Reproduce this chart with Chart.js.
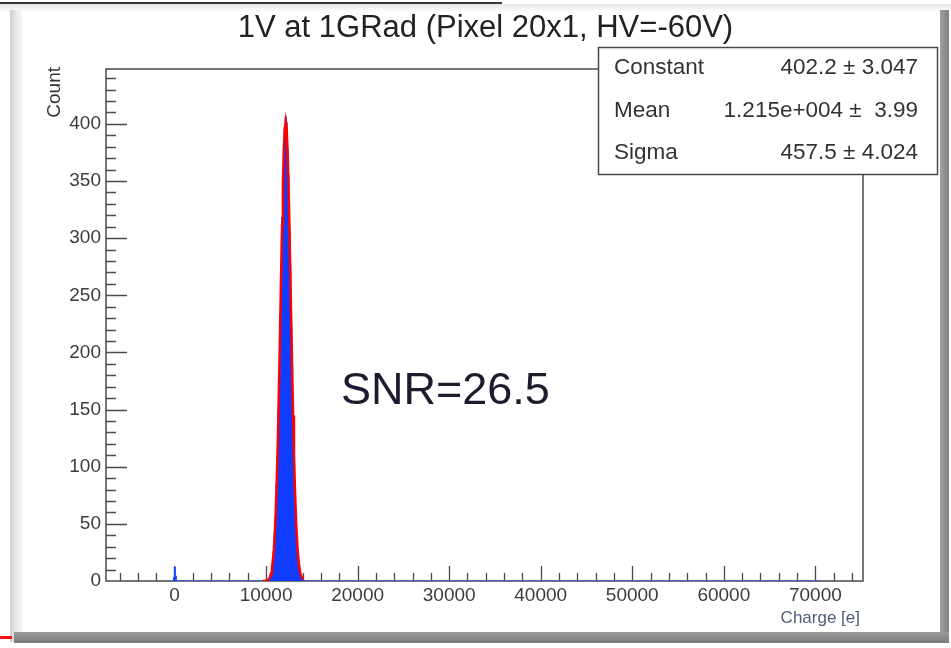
<!DOCTYPE html>
<html>
<head>
<meta charset="utf-8">
<script src="https://cdn.jsdelivr.net/npm/chart.js@4.4.0/dist/chart.umd.min.js"></script>
<style>
  body { margin: 0; background: #fff; }
  #wrap { position: relative; width: 951px; height: 648px; overflow: hidden; background: #fff; }
  #wrap div { position: absolute; }
  .topline { left: 0; top: 2px; width: 502px; height: 2px; background: #3a3a3a; }
  .topband { left: 0; top: 4px; width: 951px; height: 8px; background: linear-gradient(#e6e6e6, #fff); }
  .leftbar { left: 10px; top: 10px; width: 12px; height: 632px; background: linear-gradient(to right, #cfcfcf, #ececec 60%, #f6f6f6); }
  .rightbar { left: 940px; top: 10px; width: 9px; height: 633px; background: linear-gradient(to right, #a0a0a0, #808080); }
  .bottombar { left: 14px; top: 632px; width: 935px; height: 11px; background: linear-gradient(#9a9a9a, #7c7c7c); }
  .redmark { left: 0; top: 636px; width: 12px; height: 3px; background: #ff1010; }
  canvas { position: absolute; left: 0; top: 0; }
</style>
</head>
<body>
<div id="wrap">
  <div class="topband"></div>
  <div class="topline"></div>
  <div class="leftbar"></div>
  <div class="rightbar"></div>
  <div class="bottombar"></div>
  <div class="redmark"></div>
  <canvas id="chart" width="951" height="648"></canvas>
</div>
<script>
// histogram: left bin edges (charge, e) and counts in each bin
const binEdges = [-500, -100, 0, 100, 200,
  10200, 10300, 10400, 10500, 10600, 10700, 10800, 10900, 11000, 11100,
  11200, 11300, 11400, 11500, 11600, 11700, 11800, 11900, 12000, 12100,
  12200, 12300, 12400, 12500, 12600, 12700, 12800, 12900, 13000, 13100,
  13200, 13300, 13400, 13500, 13600, 13700, 13800, 13900, 14000, 14100,
  70500];
const binCounts = [0, 3, 12, 4, 0,
  1, 2, 4, 7, 10, 19, 26, 43, 57, 85,
  109, 150, 182, 233, 269, 318, 349, 384, 397, 406,
  401, 377, 355, 311, 276, 224, 189, 143, 113, 80,
  61, 39, 28, 16, 12, 6, 4, 2, 1, 0,
  0];

// gaussian fit curve (red), read along the peak
const fitX = [9650, 9950, 10150, 10250, 10350, 10450, 10550, 10650, 10750, 10850,
  10950, 11050, 11150, 11250, 11350, 11450, 11550, 11650, 11750, 11850,
  11950, 12050, 12150, 12250, 12350, 12450, 12550, 12650, 12750, 12850,
  12950, 13050, 13150, 13250, 13350, 13450, 13550, 13650, 13750, 13850,
  13950, 14050];
const fitY = [0, 0.2, 0.7, 1.3, 2.3, 4.0, 6.8, 11.1, 17.7, 27.2,
  40.5, 58.4, 81.7, 110.6, 144.9, 184.1, 226.5, 270.0, 311.6, 348.4,
  377.3, 395.8, 402.2, 395.8, 377.3, 348.4, 311.6, 270.0, 226.5, 184.1,
  144.9, 110.6, 81.7, 58.4, 40.5, 27.2, 17.7, 11.1, 6.8, 4.0,
  2.3, 1.3];

const xTicks = [0, 10000, 20000, 30000, 40000, 50000, 60000, 70000];
const yTicks = [0, 50, 100, 150, 200, 250, 300, 350, 400];

const title = '1V at 1GRad (Pixel 20x1, HV=-60V)';
const statNames = ['Constant', 'Mean', 'Sigma'];
const statValues = ['402.2 \u00b1 3.047', '1.215e+004 \u00b1  3.99', '457.5 \u00b1 4.024'];
const note = 'SNR=26.5';

const FONT = '"Liberation Sans", Arial, sans-serif';

const rootFrame = {
  id: 'rootFrame',
  beforeDatasetsDraw(chart) {
    const { ctx, chartArea: a, scales: { x, y } } = chart;
    ctx.save();
    ctx.strokeStyle = '#4a4a4a';
    ctx.lineWidth = 1.5;
    ctx.strokeRect(a.left, a.top, a.right - a.left, a.bottom - a.top);

    ctx.beginPath();
    for (let v = -6000; v <= 74000; v += 2000) {
      const px = Math.round(x.getPixelForValue(v)) + 0.5;
      const len = v % 10000 === 0 ? 15 : 8;
      ctx.moveTo(px, a.bottom);
      ctx.lineTo(px, a.bottom - len);
    }
    for (let v = 10; v <= 440; v += 10) {
      const py = Math.round(y.getPixelForValue(v)) + 0.5;
      const len = v % 50 === 0 ? 21 : 10;
      ctx.moveTo(a.left, py);
      ctx.lineTo(a.left + len, py);
    }
    ctx.lineWidth = 1.3;
    ctx.stroke();
    ctx.restore();
  },
  afterDraw(chart) {
    const { ctx, chartArea: a } = chart;
    ctx.save();

    // title
    ctx.fillStyle = '#222';
    ctx.font = '31px ' + FONT;
    ctx.textAlign = 'center';
    ctx.textBaseline = 'alphabetic';
    ctx.fillText(title, (a.left + a.right) / 2 + 1, 37);

    // axis titles
    ctx.font = '17px ' + FONT;
    ctx.fillStyle = '#4e5c78';
    ctx.textAlign = 'right';
    ctx.fillText('Charge [e]', 860, 623);

    ctx.save();
    ctx.translate(60, 67);
    ctx.rotate(-Math.PI / 2);
    ctx.font = '19px ' + FONT;
    ctx.fillStyle = '#333';
    ctx.textAlign = 'right';
    ctx.fillText('Count', 0, 0);
    ctx.restore();

    // SNR label
    ctx.font = '45px ' + FONT;
    ctx.fillStyle = '#1c1c2e';
    ctx.textAlign = 'left';
    ctx.fillText(note, 341, 404);

    // stats box
    const bx = 598.5, by = 47.5, bw = 339, bh = 127;
    ctx.fillStyle = '#fff';
    ctx.fillRect(bx, by, bw, bh);
    ctx.strokeStyle = '#4a4a4a';
    ctx.lineWidth = 1.5;
    ctx.strokeRect(bx, by, bw, bh);
    ctx.font = '22.5px ' + FONT;
    ctx.fillStyle = '#333';
    ctx.textBaseline = 'middle';
    const rowY = [68, 111, 153];
    statNames.forEach((n, i) => {
      ctx.textAlign = 'left';
      ctx.fillText(n, 614, rowY[i]);
      ctx.textAlign = 'right';
      ctx.fillText(statValues[i], 918, rowY[i]);
    });
    ctx.restore();
  }
};

new Chart(document.getElementById('chart'), {
  type: 'line',
  data: {
    datasets: [
      {
        data: binEdges.map((v, i) => ({ x: v, y: binCounts[i] })),
        stepped: true,
        fill: 'origin',
        backgroundColor: '#0f3cff',
        borderColor: '#1f4eff',
        borderWidth: 1.2,
        pointRadius: 0,
        order: 2
      },
      {
        data: fitX.map((v, i) => ({ x: v, y: fitY[i] })),
        fill: false,
        borderColor: '#ff0000',
        borderWidth: 2.5,
        pointRadius: 0,
        tension: 0,
        order: 1
      }
    ]
  },
  options: {
    responsive: false,
    animation: false,
    layout: { padding: { left: 0, top: 69, right: 88, bottom: 0 } },
    plugins: { legend: { display: false }, tooltip: { enabled: false }, title: { display: false } },
    scales: {
      x: {
        type: 'linear',
        min: -7480,
        max: 75200,
        grid: { display: false, drawTicks: false },
        border: { display: false },
        afterBuildTicks: s => { s.ticks = xTicks.map(v => ({ value: v })); },
        afterFit: s => { s.height = 67; },
        ticks: { font: { size: 19, family: FONT }, color: '#3c3c3c', padding: 3, maxRotation: 0, autoSkip: false, callback: v => String(v) }
      },
      y: {
        type: 'linear',
        min: 0,
        max: 448,
        grid: { display: false, drawTicks: false },
        border: { display: false },
        afterBuildTicks: s => { s.ticks = yTicks.map(v => ({ value: v })); },
        afterFit: s => { s.width = 106; },
        ticks: { font: { size: 19, family: FONT }, color: '#3c3c3c', padding: 5, callback: v => String(v) }
      }
    }
  },
  plugins: [rootFrame]
});
</script>
</body>
</html>
